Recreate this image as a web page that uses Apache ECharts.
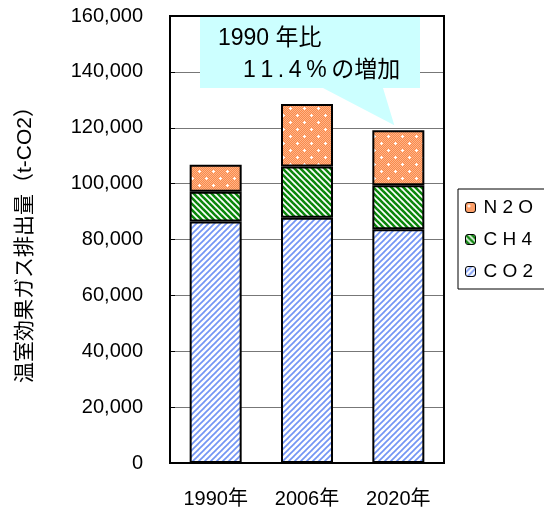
<!DOCTYPE html>
<html><head><meta charset="utf-8">
<script src="https://cdn.jsdelivr.net/npm/echarts@6/dist/echarts.min.js"></script>
<style>html,body{margin:0;padding:0;background:#fff}#c{width:544px;height:515px}</style>
</head><body><div id="c"></div>
<script>
const categories = ['1990年', '2006年', '2020年'];
const co2 = [86400, 87800, 83700];
const ch4 = [10700, 18300, 15700];
const n2o = [9700, 22400, 19700];
const yTicks = [0, 20000, 40000, 60000, 80000, 100000, 120000, 140000, 160000];
const calloutLine1 = '1990 年比';
const calloutPct = '11.4%';
const calloutRest = 'の増加';

const FONT = "'Liberation Sans', Arial, 'Noto Sans CJK JP', sans-serif";

function tile(w, h, draw) {
  const c = document.createElement('canvas');
  c.width = w; c.height = h;
  const g = c.getContext('2d');
  draw(g, w, h);
  return { image: c, repeat: 'repeat' };
}
const co2Fill = tile(6, 6, (g, w, h) => {
  g.fillStyle = '#ffffff'; g.fillRect(0, 0, w, h);
  g.strokeStyle = '#7395f4'; g.lineWidth = 1.7;
  [-6, 0, 6].forEach(dx => {
    g.beginPath(); g.moveTo(dx - 1, h + 1); g.lineTo(dx + w + 1, -1); g.stroke();
  });
});
const ch4Fill = tile(6, 6, (g, w, h) => {
  g.fillStyle = '#ffffff'; g.fillRect(0, 0, w, h);
  g.strokeStyle = '#0b870b'; g.lineWidth = 2.6;
  [-6, 0, 6].forEach(dx => {
    g.beginPath(); g.moveTo(dx - 1, -1); g.lineTo(dx + w + 1, h + 1); g.stroke();
  });
});
const n2oFill = tile(14, 14, (g, w, h) => {
  for (let y = 0; y < h; y++) for (let x = 0; x < w; x++) {
    g.fillStyle = ((x + y) % 2) ? '#f98a4c' : '#ffb487';
    g.fillRect(x, y, 1, 1);
  }
  g.fillStyle = '#ffffff';
  [[3, 3], [10, 10]].forEach(([cx, cy]) => {
    g.fillRect(cx - 1, cy, 3, 1); g.fillRect(cx, cy - 1, 1, 3);
  });
});

const spaced = s => s.split('').join(' ');
const thin = s => s.split('').join('\u2009');

const chart = echarts.init(document.getElementById('c'), null, { renderer: 'canvas' });
const barBase = { type: 'bar', stack: 'total', barWidth: 52 };
chart.setOption({
  animation: false,
  textStyle: { fontFamily: FONT },
  grid: { left: 170, top: 16, right: 100, bottom: 52, show: true, borderColor: '#000', borderWidth: 2, z: 3 },
  legend: {
    orient: 'vertical', left: 458, top: 189,
    data: ['N2O', 'CH4', 'CO2'],
    backgroundColor: '#fff', borderColor: '#000', borderWidth: 1,
    padding: [9, 12, 8, 7], itemGap: 13,
    itemWidth: 10, itemHeight: 10,
    itemStyle: { borderColor: '#000', borderWidth: 1 },
    formatter: spaced,
    textStyle: { fontSize: 19, color: '#000', fontFamily: FONT, padding: [0, 0, 0, 3] }
  },
  xAxis: {
    type: 'category', data: categories,
    axisLine: { lineStyle: { color: '#000', width: 2 } },
    axisTick: { inside: true, length: 5, lineStyle: { color: '#555' } },
    axisLabel: { fontSize: 20, color: '#000', margin: 26 }
  },
  yAxis: {
    type: 'value', min: yTicks[0], max: yTicks[yTicks.length - 1], interval: yTicks[1] - yTicks[0],
    name: '温室効果ガス排出量（t-CO2）', nameLocation: 'middle', nameGap: 134,
    nameTextStyle: { fontSize: 21, color: '#000' },
    axisLine: { show: true, lineStyle: { color: '#000', width: 2 } },
    axisTick: { show: true, inside: true, length: 5, lineStyle: { color: '#000' } },
    axisLabel: { fontSize: 20, color: '#000', margin: 27, formatter: v => v.toLocaleString('en-US') },
    splitLine: { show: true, lineStyle: { color: '#777', width: 1 } }
  },
  series: [
    Object.assign({}, barBase, { name: 'CO2', data: co2, itemStyle: { color: co2Fill, borderColor: '#000', borderWidth: 2 } }),
    Object.assign({}, barBase, { name: 'CH4', data: ch4, itemStyle: { color: ch4Fill, borderColor: '#000', borderWidth: 2 } }),
    Object.assign({}, barBase, { name: 'N2O', data: n2o, itemStyle: { color: n2oFill, borderColor: '#000', borderWidth: 2 } })
  ]
});

const total2020 = co2[2] + ch4[2] + n2o[2];
const tip = chart.convertToPixel({ xAxisIndex: 0, yAxisIndex: 0 }, [categories[2], total2020]);
chart.setOption({
  graphic: [
    { type: 'polygon', z: 10, shape: { points: [[200, 17], [420, 17], [420, 88], [383, 88], [tip[0] - 4, tip[1] - 5], [323, 88], [200, 88]] },
      style: { fill: '#ccffff', stroke: null } },
    { type: 'text', z: 11, left: 218, top: 27, style: { text: calloutLine1, font: '23px ' + FONT, fill: '#000' } },
    { type: 'text', z: 11, left: 243, top: 59, style: { text: thin(calloutPct) + '\u2009' + calloutRest, font: '23px ' + FONT, fill: '#000' } }
  ]
});
</script></body></html>
